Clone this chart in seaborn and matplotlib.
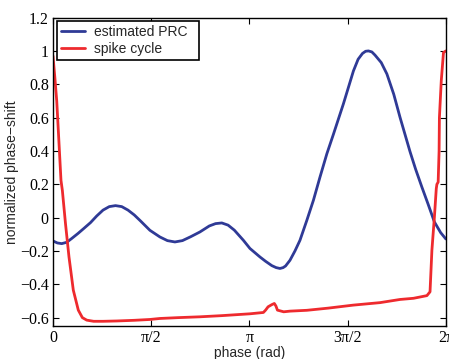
"""
Estimated phase response curve vs. spike cycle
"""

import numpy as np
import pandas as pd
import matplotlib
matplotlib.use("Agg")
import matplotlib.pyplot as plt
import seaborn as sns

# estimated PRC (blue)
prc_phase = [0.00, 0.07, 0.14, 0.22, 0.30, 0.40, 0.49, 0.60, 0.70, 0.80,
             0.90, 1.00, 1.10, 1.20, 1.30, 1.40, 1.55, 1.71, 1.83, 1.95,
             2.07, 2.20, 2.35, 2.50, 2.60, 2.70, 2.80, 2.90, 3.045, 3.15,
             3.31, 3.40, 3.50, 3.57, 3.63, 3.68, 3.72, 3.79, 3.87, 3.95,
             4.06, 4.165, 4.27, 4.38, 4.485, 4.645, 4.805, 4.88, 4.95, 5.00,
             5.045, 5.10, 5.15, 5.25, 5.34, 5.45, 5.55, 5.71, 5.80, 5.90,
             6.00, 6.10, 6.20, 6.283]
prc_value = [-0.140, -0.152, -0.156, -0.148, -0.125, -0.095, -0.066, -0.030, 0.010, 0.045,
             0.066, 0.072, 0.066, 0.045, 0.016, -0.020, -0.076, -0.116, -0.138, -0.146,
             -0.138, -0.115, -0.086, -0.050, -0.036, -0.032, -0.045, -0.075, -0.136, -0.185,
             -0.236, -0.262, -0.288, -0.300, -0.305, -0.300, -0.290, -0.256, -0.200, -0.136,
             -0.016, 0.104, 0.243, 0.383, 0.500, 0.683, 0.880, 0.950, 0.985, 0.998,
             1.000, 0.994, 0.975, 0.930, 0.862, 0.740, 0.602, 0.396, 0.290, 0.183,
             0.080, -0.026, -0.090, -0.128]

# spike cycle (red)
spike_phase = [0.00, 0.03, 0.06, 0.10, 0.128, 0.15, 0.20, 0.256, 0.325, 0.405,
               0.47, 0.54, 0.65, 0.80, 1.02, 1.30, 1.55, 1.71, 2.00, 2.35,
               2.70, 3.15, 3.365, 3.40, 3.44, 3.50, 3.54, 3.565, 3.59, 3.69,
               3.79, 4.06, 4.40, 4.80, 5.23, 5.55, 5.765, 5.98, 6.03, 6.06,
               6.10, 6.13, 6.14, 6.16, 6.175, 6.18, 6.21, 6.245, 6.283]
spike_value = [0.97, 0.84, 0.70, 0.42, 0.223, 0.163, -0.036, -0.236, -0.435, -0.555,
               -0.600, -0.615, -0.622, -0.622, -0.620, -0.616, -0.611, -0.605, -0.600, -0.595,
               -0.588, -0.577, -0.569, -0.555, -0.535, -0.522, -0.515, -0.530, -0.555, -0.565,
               -0.561, -0.556, -0.543, -0.525, -0.510, -0.491, -0.484, -0.468, -0.445, -0.196,
               0.004, 0.174, 0.200, 0.213, 0.40, 0.60, 0.822, 0.99, 1.00]

xtick_labels = ["0", "\u03c0/2", "\u03c0", "3\u03c0/2", "2\u03c0"]
ytick_values = [-0.6, -0.4, -0.2, 0, 0.2, 0.4, 0.6, 0.8, 1, 1.2]

BLUE = "#2F3A96"
RED = "#EE2A2E"

sns.set_style("ticks")
plt.rcParams["font.family"] = ["Liberation Sans", "DejaVu Sans"]
plt.rcParams["xtick.direction"] = "in"
plt.rcParams["ytick.direction"] = "in"
plt.rcParams["lines.solid_joinstyle"] = "round"

prc = pd.DataFrame({"phase": prc_phase, "value": prc_value})
spike = pd.DataFrame({"phase": spike_phase, "value": spike_value})

fig = plt.figure(figsize=(4.49, 3.59), dpi=100)
ax = fig.add_axes([0.118, 0.092, 0.875, 0.859])

sns.lineplot(data=prc, x="phase", y="value", ax=ax, color=BLUE, lw=2.0,
             estimator=None, sort=False, label="estimated PRC")
sns.lineplot(data=spike, x="phase", y="value", ax=ax, color=RED, lw=2.0,
             estimator=None, sort=False, label="spike cycle")

ax.set_xlim(0, 2 * np.pi)
ax.set_ylim(-0.65, 1.2)
ax.set_xticks(np.arange(5) * np.pi / 2)
ax.set_xticklabels(xtick_labels)
ax.set_yticks(ytick_values)
ax.set_yticklabels([f"{v:g}".replace("-", "\u2212") for v in ytick_values])
for lab in ax.get_xticklabels() + ax.get_yticklabels():
    lab.set_family("Liberation Serif")
    lab.set_fontsize(11.5)

ax.tick_params(top=True, right=True, length=4, width=0.8, pad=3, colors="black")
for s in ax.spines.values():
    s.set_visible(True)
    s.set_color("black")
    s.set_linewidth(1.0)

ax.set_xlabel("phase (rad)", fontsize=10, labelpad=0)
ax.set_ylabel("normalized phase\u2212shift", fontsize=10, labelpad=1)

leg = ax.legend(loc="upper left", bbox_to_anchor=(0.01, 0.99, 0.362, 0.0),
                mode="expand", borderaxespad=0, fontsize=10, frameon=True,
                fancybox=False, edgecolor="black", framealpha=1,
                handlelength=1.75, handletextpad=0.65, labelspacing=0.2,
                borderpad=0.3)
leg.get_frame().set_linewidth(1.2)

fig.savefig("out.png", dpi=100)
